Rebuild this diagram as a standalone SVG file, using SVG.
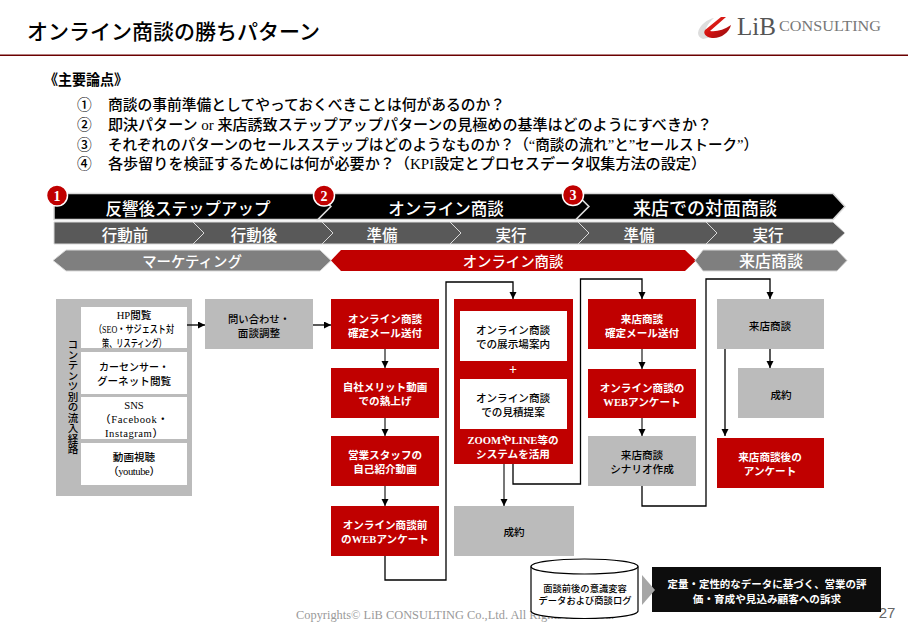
<svg xmlns="http://www.w3.org/2000/svg" width="908" height="626" viewBox="0 0 908 626">
<style>
text{font-family:"Liberation Serif","Noto Sans CJK JP",serif;text-anchor:middle;fill:#000}
.w{fill:#fff;font-weight:700;font-size:10.6px}
.d{font-size:10.6px;font-weight:500}
.q{font-size:14.7px;text-anchor:start;font-weight:500}
.r1{fill:#fff;font-size:16.5px;font-weight:500}
.r2{fill:#fff;font-size:15.5px;font-weight:500}
.r3{fill:#fff;font-size:14.4px;font-weight:500}
.c{fill:#fff;font-size:14px;font-weight:700}
.k{fill:#000;stroke:#d9d9d9;stroke-width:1.5}
.g5{fill:#595959;stroke:#d9d9d9;stroke-width:1}
.g7{fill:#7f7f7f;stroke:#d9d9d9;stroke-width:1}
.red{fill:#c00000}
.gr{fill:#bbb}
.wh{fill:#fff}
.ln{fill:none;stroke:#000;stroke-width:1.3;marker-end:url(#a)}
.ln2{fill:none;stroke:#555;stroke-width:1.6;marker-end:url(#a)}
</style>
<defs>
<marker id="a" markerUnits="userSpaceOnUse" markerWidth="8" markerHeight="8" refX="7" refY="3.5" orient="auto"><path d="M0 0L7 3.5L0 7z" fill="#000"/></marker>
<linearGradient id="sw" x1="0" y1="0" x2="1" y2="1"><stop offset="0" stop-color="#ee3322"/><stop offset=".5" stop-color="#d01010"/><stop offset="1" stop-color="#8c1010"/></linearGradient>
</defs>

<g id="header">
<text x="27" y="39" style="font-size:21px;text-anchor:start;font-weight:500" textLength="293" lengthAdjust="spacingAndGlyphs">オンライン商談の勝ちパターン</text>
<rect x="0" y="54.500" width="908" height="1.500" fill="#6b0000"/>
</g>
<g id="logo">
<path d="M698 33C699 25 708 19 714 18C708 23 705 29 705 33C705 35 708 37 712 37L703 39C700 38 698 36 698 33Z" fill="#ddd"/>
<path d="M721 17L726 17L710 31C716 32 724 30 731 25C729 33 720 39 712 38C705 37 703 33 705 30Z" fill="url(#sw)"/>
<text x="737" y="35" style="font-size:25px;text-anchor:start;fill:#555" textLength="39" lengthAdjust="spacingAndGlyphs">LiB</text>
<text x="779" y="31" style="font-size:15px;text-anchor:start;fill:#777" textLength="102" lengthAdjust="spacingAndGlyphs">CONSULTING</text>
</g>

<g id="questions">
<text x="44" y="85" style="font-size:14.5px;text-anchor:start;font-weight:700" textLength="84" lengthAdjust="spacingAndGlyphs">《主要論点》</text>
<text class="q" x="77" y="110">①</text><text class="q" x="108" y="110" textLength="397" lengthAdjust="spacingAndGlyphs">商談の事前準備としてやっておくべきことは何があるのか？</text>
<text class="q" x="77" y="130">②</text><text class="q" x="108" y="130" textLength="604" lengthAdjust="spacingAndGlyphs">即決パターン or 来店誘致ステップアップパターンの見極めの基準はどのようにすべきか？</text>
<text class="q" x="77" y="150">③</text><text class="q" x="108" y="150" textLength="650" lengthAdjust="spacingAndGlyphs">それぞれのパターンのセールスステップはどのようなものか？（“商談の流れ”と”セールストーク”）</text>
<text class="q" x="77" y="169">④</text><text class="q" x="108" y="169" textLength="598" lengthAdjust="spacingAndGlyphs">各歩留りを検証するためには何が必要か？（KPI設定とプロセスデータ収集方法の設定）</text>
</g>

<g id="phase-row-1">
<path class="k" d="M54 193.500H318L331 206.500L318 219.500H54Z"/>
<path class="k" d="M318 193.500H576L589 206.500L576 219.500H318L331 206.500Z"/>
<path class="k" d="M576 193.500H833L845 206.500L833 219.500H576L589 206.500Z"/>
<text class="r1" x="188" y="215">反響後ステップアップ</text>
<text class="r1" x="446" y="215">オンライン商談</text>
<text class="r1" x="705" y="215" style="font-size:18px">来店での対面商談</text>
</g>
<g id="phase-row-2">
<path class="g5" d="M54 222H193L204 233L193 244H54Z"/>
<path class="g5" d="M193 222H322L333 233L322 244H193L204 233Z"/>
<path class="g5" d="M322 222H450L461 233L450 244H322L333 233Z"/>
<path class="g5" d="M450 222H578L589 233L578 244H450L461 233Z"/>
<path class="g5" d="M578 222H706L717 233L706 244H578L589 233Z"/>
<path class="g5" d="M706 222H833L845 233L833 244H706L717 233Z"/>
<text class="r2" x="125" y="241">行動前</text><text class="r2" x="254" y="241">行動後</text>
<text class="r2" x="382" y="241">準備</text><text class="r2" x="511" y="241">実行</text>
<text class="r2" x="639" y="241">準備</text><text class="r2" x="768" y="241">実行</text>
</g>
<g id="phase-row-3">
<path class="g7" d="M53 260.500L66 250H320L331 260.500L320 271H66Z"/>
<path class="red" d="M331 260.500L341 250H685L696 260.500L685 271H341Z"/>
<path class="g7" d="M695 260.500L703 250H837L847 260.500L837 271H703Z"/>
<text class="r3" x="192" y="267">マーケティング</text>
<text class="r3" x="513" y="267">オンライン商談</text>
<text class="r3" x="771" y="267" style="font-size:16px">来店商談</text>
</g>
<g id="badge-1"><circle cx="57" cy="195.500" r="10.500" fill="#c00000" stroke="#fff" stroke-width="1.500"/><text class="c" x="57" y="200.500">1</text></g>
<g id="badge-2"><circle cx="324" cy="195.500" r="10.500" fill="#c00000" stroke="#fff" stroke-width="1.500"/><text class="c" x="324" y="200.500">2</text></g>
<g id="badge-3"><circle cx="573" cy="195" r="10.500" fill="#c00000" stroke="#fff" stroke-width="1.500"/><text class="c" x="573" y="200">3</text></g>

<g id="inflow-routes">
<rect class="gr" x="56" y="299" width="136" height="197"/>
<text class="d" x="72" y="397" style="writing-mode:vertical-rl;font-size:10.5px">コンテンツ別の流入経路</text>
<rect class="wh" x="81" y="307" width="106" height="41"/>
<text class="d" x="134" y="319">HP閲覧</text>
<text class="d" x="134" y="333" textLength="80" lengthAdjust="spacingAndGlyphs">（SEO・サジェスト対</text>
<text class="d" x="134" y="347" textLength="64" lengthAdjust="spacingAndGlyphs">策、リスティング）</text>
<rect class="wh" x="81" y="352" width="106" height="42"/>
<text class="d" x="134" y="371" textLength="70" lengthAdjust="spacingAndGlyphs">カーセンサー・</text>
<text class="d" x="134" y="385">グーネット閲覧</text>
<rect class="wh" x="81" y="397" width="106" height="42"/>
<text class="d" x="134" y="409">SNS</text>
<text class="d" x="134" y="423" textLength="68">（Facebook・</text>
<text class="d" x="134" y="437" textLength="58">Instagram）</text>
<rect class="wh" x="81" y="443" width="106" height="42"/>
<text class="d" x="134" y="461">動画視聴</text>
<text class="d" x="134" y="475" textLength="52">（youtube）</text>
</g>
<g id="inquiry"><rect class="gr" x="205" y="299" width="108" height="50"/><text class="d" x="259" y="323" textLength="62" lengthAdjust="spacingAndGlyphs">問い合わせ・</text><text class="d" x="259" y="337">面談調整</text></g>
<g id="n1"><rect class="red" x="331" y="299" width="108" height="50"/><text class="w" x="385" y="323">オンライン商談</text><text class="w" x="385" y="337">確定メール送付</text></g>
<g id="n2"><rect class="red" x="331" y="368" width="108" height="50"/><text class="w" x="385" y="391">自社メリット動画</text><text class="w" x="385" y="405">での熱上げ</text></g>
<g id="n3"><rect class="red" x="331" y="436" width="108" height="50"/><text class="w" x="385" y="459">営業スタッフの</text><text class="w" x="385" y="473">自己紹介動画</text></g>
<g id="n4"><rect class="red" x="331" y="506" width="108" height="50"/><text class="w" x="385" y="529">オンライン商談前</text><text class="w" x="385" y="543">のWEBアンケート</text></g>
<g id="n5">
<rect class="red" x="454" y="299" width="119" height="165"/>
<rect class="wh" x="460" y="311" width="107" height="50"/>
<text class="d" x="513" y="334">オンライン商談</text><text class="d" x="513" y="348">での展示場案内</text>
<text class="w" x="513" y="374" style="font-size:14px">+</text>
<rect class="wh" x="460" y="379" width="107" height="50"/>
<text class="d" x="513" y="402">オンライン商談</text><text class="d" x="513" y="416">での見積提案</text>
<text class="w" x="513" y="444">ZOOMやLINE等の</text><text class="w" x="513" y="458">システムを活用</text>
</g>
<g id="n6"><rect class="gr" x="454" y="506" width="120" height="50"/><text class="d" x="514" y="536">成約</text></g>
<g id="n7"><rect class="red" x="588" y="299" width="108" height="50"/><text class="w" x="642" y="323">来店商談</text><text class="w" x="642" y="337">確定メール送付</text></g>
<g id="n8"><rect class="red" x="588" y="369" width="108" height="49"/><text class="w" x="642" y="392">オンライン商談の</text><text class="w" x="642" y="406">WEBアンケート</text></g>
<g id="n9"><rect class="gr" x="588" y="436" width="108" height="50"/><text class="d" x="642" y="459">来店商談</text><text class="d" x="642" y="473">シナリオ作成</text></g>
<g id="n10"><rect class="gr" x="717" y="299" width="107" height="50"/><text class="d" x="770" y="330">来店商談</text></g>
<g id="n11"><rect class="gr" x="738" y="368" width="86" height="50"/><text class="d" x="781" y="399">成約</text></g>
<g id="n12"><rect class="red" x="717" y="438" width="107" height="50"/><text class="w" x="770" y="461">来店商談後の</text><text class="w" x="770" y="475">アンケート</text></g>

<g id="connectors">
<path class="ln" d="M187 325H205"/>
<path class="ln" d="M313 325H331"/>
<path class="ln2" d="M385 349V368"/>
<path class="ln2" d="M385 418V436"/>
<path class="ln2" d="M385 486V506"/>
<path class="ln" d="M385 556V580H446V282H513V299"/>
<path class="ln2" d="M504 464V506"/>
<path class="ln" d="M513 464V484H580.500V279H642V299"/>
<path class="ln2" d="M642 349V369"/>
<path class="ln2" d="M642 418V436"/>
<path class="ln" d="M642 486V506H706V279H770V299"/>
<path class="ln" d="M770 349V368"/>
<path class="ln" d="M725 349V436"/>
</g>

<g id="footer">
<text x="296" y="619" style="font-size:12px;text-anchor:start;fill:#999" textLength="318" lengthAdjust="spacingAndGlyphs">Copyrights© LiB CONSULTING Co.,Ltd.  All Rights Reserved.</text>
<text x="887" y="618" style="font-family:'Liberation Sans',sans-serif;font-size:15px;fill:#666">27</text>
</g>
<g id="data-log">
<path d="M531 566.500C531 562 555 559 584.500 559C614 559 638 562 638 566.500V611C638 615.500 614 618.500 584.500 618.500C555 618.500 531 615.500 531 611Z" fill="#fff" stroke="#000" stroke-width="1.200"/>
<path d="M531 566.500C531 571 555 574 584.500 574C614 574 638 571 638 566.500" fill="none" stroke="#000" stroke-width="1.200"/>
<text class="d" x="585" y="592" style="font-size:9.300px">面談前後の意識変容</text>
<text class="d" x="585" y="604" style="font-size:9.300px">データおよび商談ログ</text>
</g>
<g id="appeal">
<rect x="652" y="567" width="229" height="45" fill="#0d0d0d"/>
<text class="w" x="767" y="588" textLength="199" lengthAdjust="spacingAndGlyphs">定量・定性的なデータに基づく、営業の評</text>
<text class="w" x="767" y="603">価・育成や見込み顧客への訴求</text>
<path d="M642 575L655 590L642 605Z" fill="#a6a6a6"/>
</g>
</svg>
